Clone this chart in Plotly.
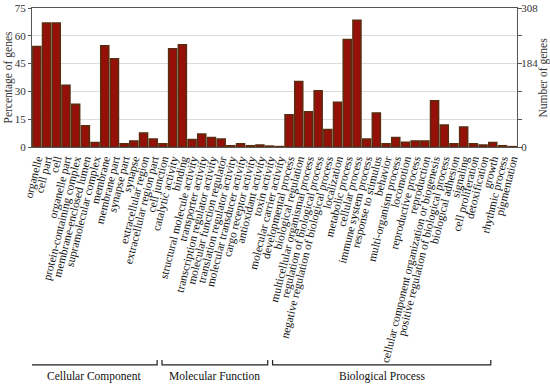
import plotly.graph_objects as go

cc_terms = ["organelle", "cell part", "cell", "organelle part", "protein-containing complex",
            "membrane-enclosed lumen", "supramolecular complex", "membrane", "membrane part",
            "synapse part", "synapse", "extracellular region", "extracellular region part",
            "cell junction"]
cc_pct = [54.2, 66.9, 66.9, 33.3, 23.1, 11.4, 2.4, 54.6, 47.6, 1.8, 3.3, 7.6, 4.3, 1.8]

mf_terms = ["catalytic activity", "binding", "structural molecule activity", "transporter activity",
            "transcription regulator activity", "molecular function regulator",
            "translation regulator activity", "molecular transducer activity",
            "cargo receptor activity", "antioxidant activity", "toxin activity",
            "molecular carrier activity"]
mf_pct = [53.0, 55.2, 4.0, 7.0, 5.1, 4.3, 0.7, 1.8, 0.7, 1.1, 0.5, 0.25]

bp_terms = ["developmental process", "biological regulation", "multicellular organismal process",
            "regulation of biological process", "negative regulation of biological process",
            "localization", "metabolic process", "cellular process", "immune system process",
            "response to stimulus", "behavior", "multi-organism process", "locomotion",
            "reproductive process", "reproduction", "cellular component organization or biogenesis",
            "positive regulation of biological process", "biological adhesion", "signaling",
            "cell proliferation", "detoxification", "growth", "rhythmic process", "pigmentation"]
bp_pct = [17.4, 35.3, 19.0, 30.4, 9.4, 24.2, 58.0, 68.4, 4.3, 18.4, 1.8, 5.1, 2.6, 3.3, 3.3,
          25.0, 11.9, 1.8, 10.8, 1.8, 1.1, 2.4, 0.7, 0.2]

group_names = ["Cellular Component", "Molecular Function", "Biological Process"]
left_tick_vals = [0, 15, 30, 45, 60, 75]
right_tick_text = ["0", "", "", "184", "", "308"]

categories = cc_terms + mf_terms + bp_terms
values = cc_pct + mf_pct + bp_pct
xs = list(range(len(categories)))

SERIF = "Liberation Serif, Times New Roman, serif"

fig = go.Figure()
fig.add_trace(go.Bar(
    x=xs, y=values,
    marker=dict(color="#951008", line=dict(color="#5A2C10", width=1.5)),
    showlegend=False,
))
# invisible trace to activate secondary axis
fig.add_trace(go.Scatter(x=[0], y=[0], yaxis="y2", mode="markers",
                         marker=dict(opacity=0), showlegend=False, hoverinfo="skip"))

fig.update_layout(
    width=550, height=386,
    margin=dict(l=32, r=33, t=8, b=239),
    paper_bgcolor="white", plot_bgcolor="white",
    bargap=0.17,
    font=dict(family=SERIF, size=11, color="#222"),
    xaxis=dict(
        range=[-0.5, len(categories) - 0.5], automargin=False,
        tickmode="array", tickvals=xs, ticktext=categories,
        tickangle=-76, tickfont=dict(family=SERIF, size=11.5, color="#111"),
        showline=True, linecolor="#555", linewidth=1, mirror=True,
        ticks="", showgrid=False, zeroline=False,
    ),
    yaxis=dict(
        range=[0, 75], automargin=False, tickmode="array", tickvals=left_tick_vals,
        tickfont=dict(family=SERIF, size=11, color="#333"),
        showline=True, linecolor="#555", linewidth=1,
        ticks="outside", ticklen=3, tickcolor="#555",
        showgrid=True, gridcolor="#dcdcdc", gridwidth=1, zeroline=False,
    ),
    yaxis2=dict(
        range=[0, 75], automargin=False, overlaying="y", side="right", anchor="x",
        tickmode="array", tickvals=left_tick_vals, ticktext=right_tick_text,
        tickfont=dict(family=SERIF, size=11, color="#333"),
        showline=True, linecolor="#555", linewidth=1,
        ticks="outside", ticklen=4, tickcolor="#555", ticklabelstandoff=-3,
        showgrid=False, zeroline=False,
    ),
)

# axis titles
fig.add_annotation(x=0, y=0.5, xref="paper", yref="paper", xanchor="center", yanchor="middle",
                   xshift=-24, text="Percentage of genes",
                   showarrow=False, textangle=-90,
                   font=dict(family=SERIF, size=11.5, color="#333"))
fig.add_annotation(x=1, y=0.5, xref="paper", yref="paper", xanchor="center", yanchor="middle",
                   xshift=26, text="Number of genes",
                   showarrow=False, textangle=-90,
                   font=dict(family=SERIF, size=11.5, color="#333"))

# group brackets
bracket_ranges = [(-0.62, 12.4), (12.9, 23.8), (24.3, 46.8)]
y_line = -1.568
y_top = -1.532
for (x0, x1), name in zip(bracket_ranges, group_names):
    fig.add_shape(type="path", xref="x", yref="paper",
                  path=f"M {x0} {y_top} L {x0} {y_line} L {x1} {y_line} L {x1} {y_top}",
                  line=dict(color="#222", width=1.2))
    fig.add_annotation(x=(x0 + x1) / 2, y=-1.65, xref="x", yref="paper",
                       xanchor="center", yanchor="middle",
                       text=name, showarrow=False,
                       font=dict(family=SERIF, size=11.5, color="#111"))

fig.write_html("out.html", config={"displayModeBar": False},
               post_script="document.body.style.margin='0';document.body.style.overflow='hidden';")
